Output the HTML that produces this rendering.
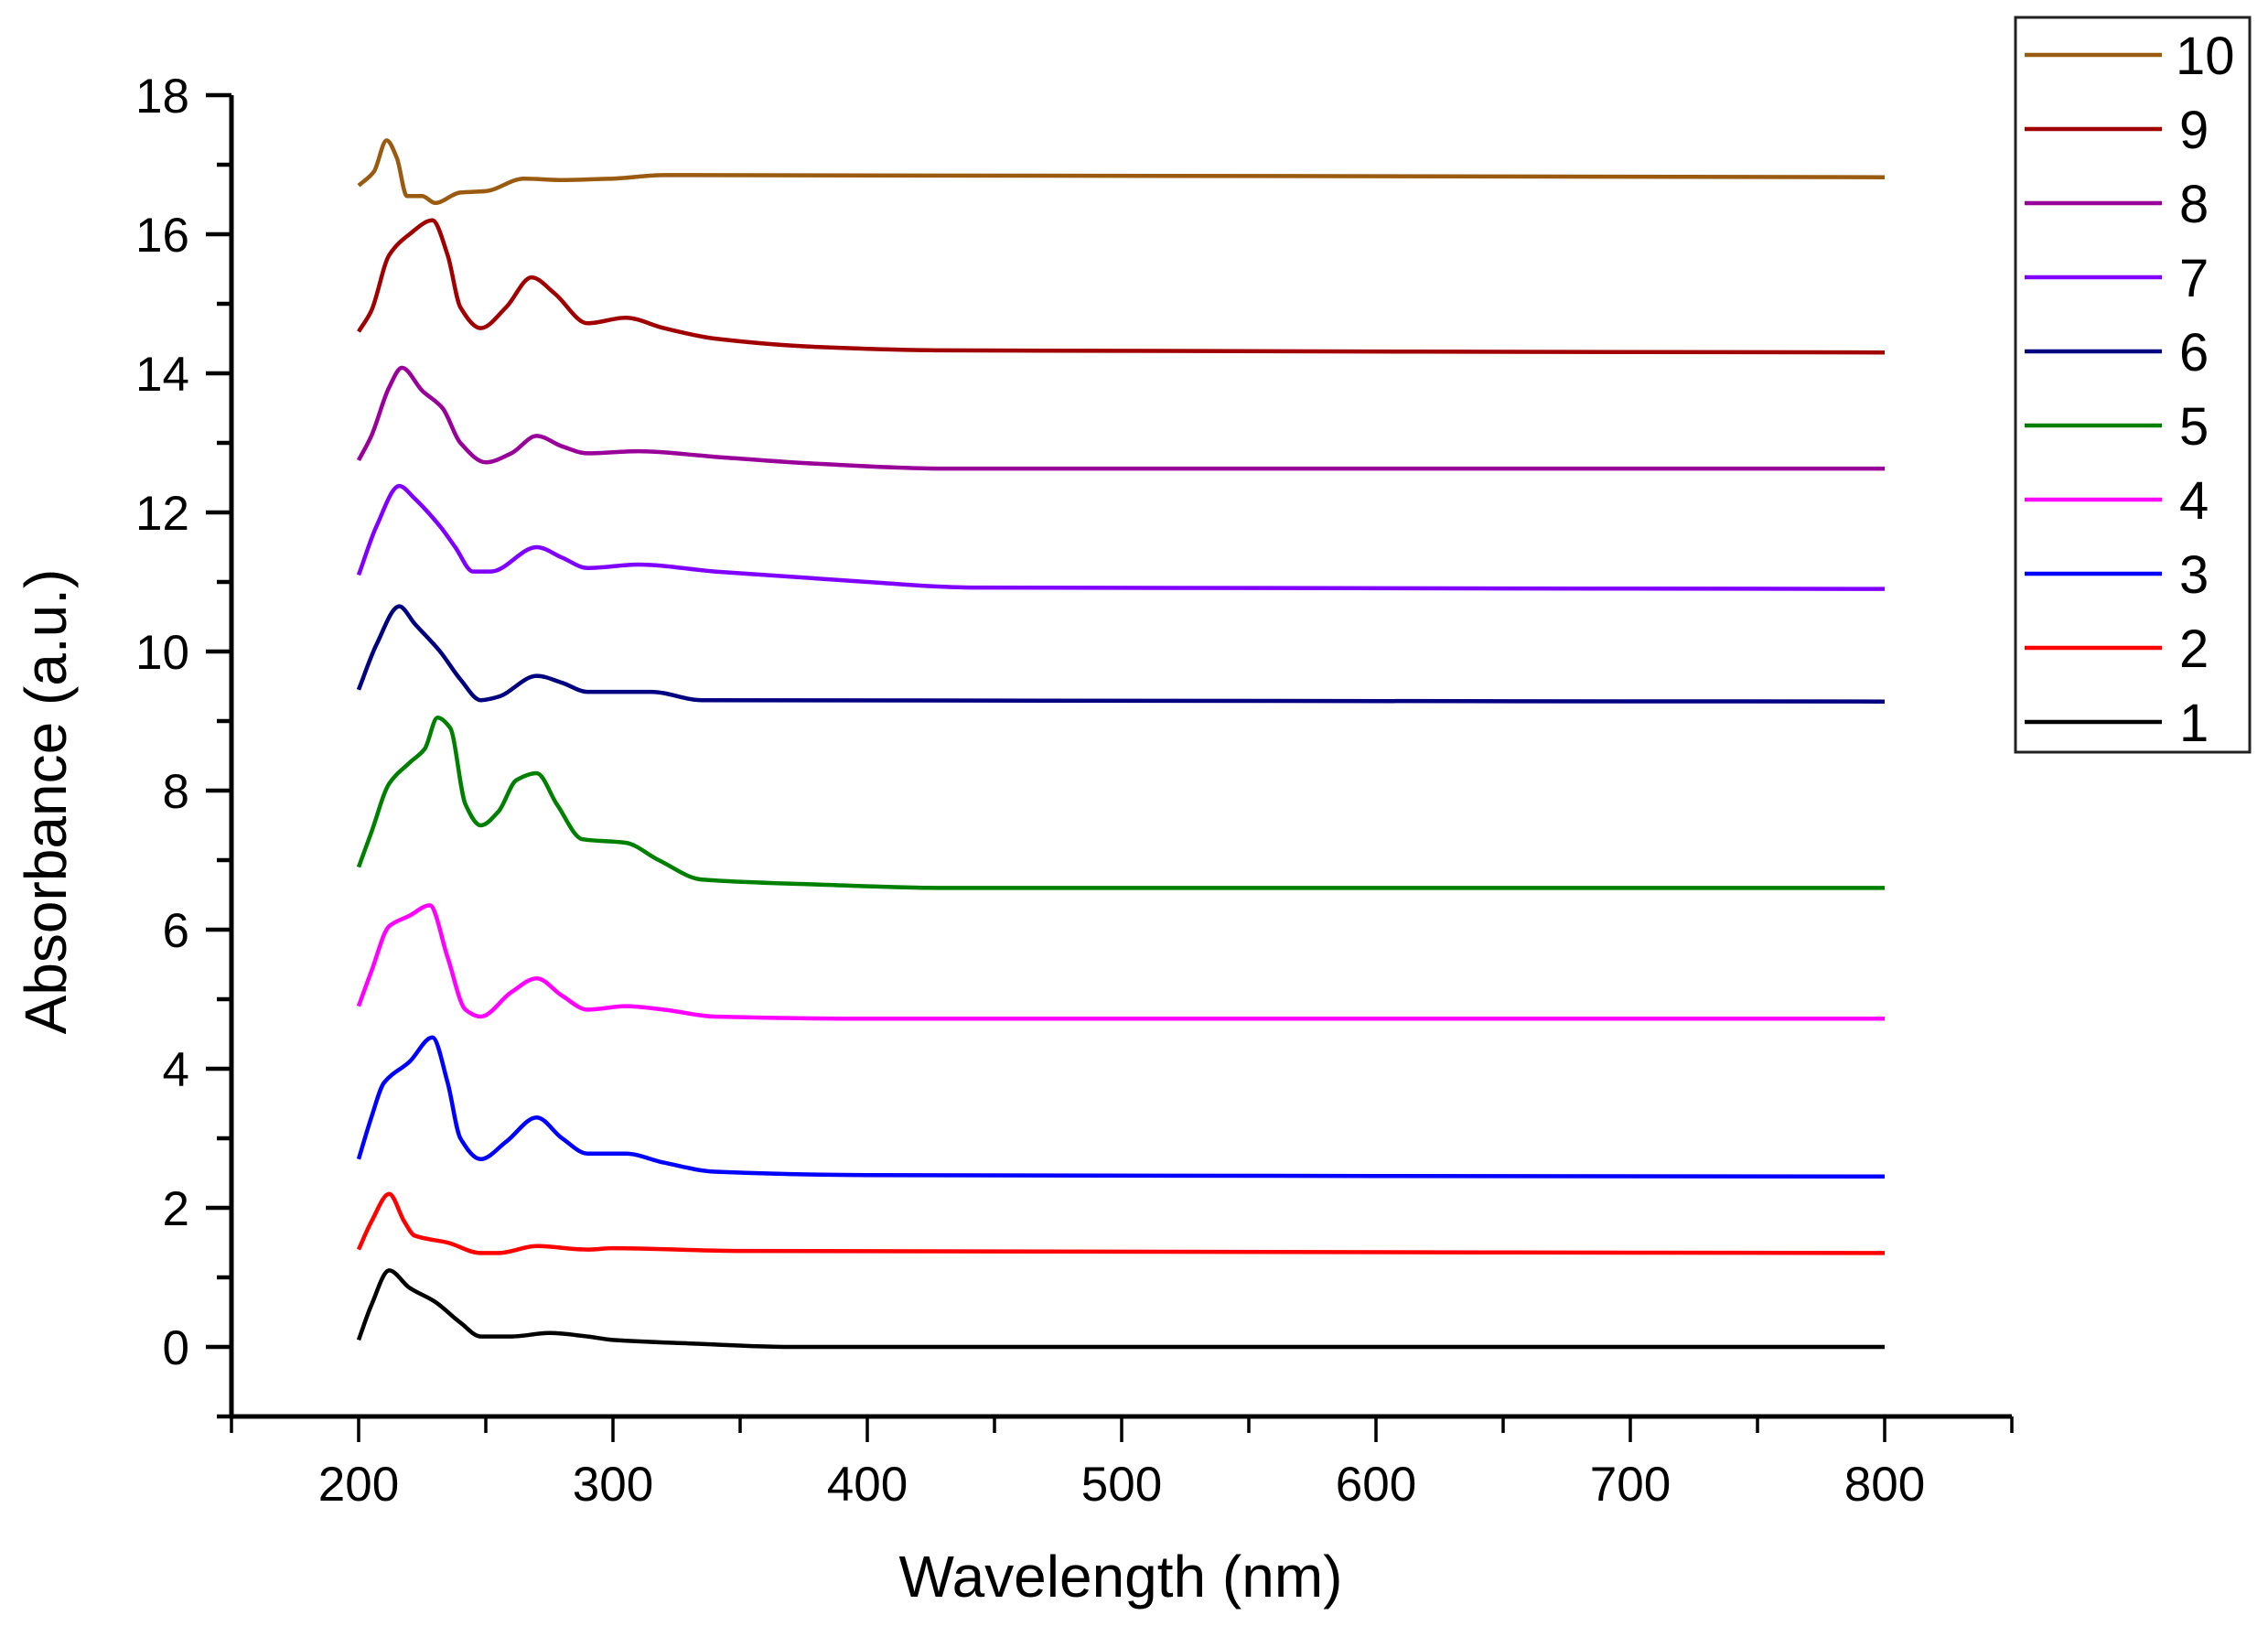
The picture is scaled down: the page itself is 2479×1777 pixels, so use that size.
<!DOCTYPE html>
<html><head><meta charset="utf-8"><style>
html,body{margin:0;padding:0;background:#fff;}
svg{display:block;font-family:"Liberation Sans",Arial,sans-serif;}
</style></head><body>
<svg id="chart" width="2479" height="1777" viewBox="0 0 2479 1777" xmlns="http://www.w3.org/2000/svg">
<g id="axes"></g>
<g id="series"></g>
<g id="legend"></g>
<text x="1225" y="1745" font-size="64" text-anchor="middle">Wavelength (nm)</text>
<text x="0" y="0" font-size="64" text-anchor="middle" transform="translate(72,876) rotate(-90)">Absorbance (a.u.)</text>
</svg>
<script>
const seriesNames = ["1","2","3","4","5","6","7","8","9","10"];
const seriesColors = ["#000000","#ff0000","#0000ff","#ff00ff","#008000","#000080","#8000ff","#990099","#a00000","#9a5a10"];
const xTicks = [200,300,400,500,600,700,800];
const yTicks = [0,2,4,6,8,10,12,14,16,18];
const wl1 = [200,205,212,220,230,240,248,260,275,290,300,330,370,800];
const ab1 = [0.1,0.6,1.1,0.85,0.65,0.35,0.15,0.15,0.2,0.15,0.1,0.05,0,0];
const wl2 = [200,205,212,218,222,235,248,255,270,290,300,350,800];
const ab2 = [1.4,1.8,2.2,1.8,1.6,1.5,1.35,1.35,1.45,1.4,1.42,1.38,1.35];
const wl3 = [200,205,210,220,229,235,240,248,258,270,280,290,305,320,340,400,800];
const ab3 = [2.7,3.3,3.8,4.1,4.45,3.8,3.0,2.7,2.95,3.3,3.0,2.78,2.78,2.65,2.52,2.47,2.45];
const wl4 = [200,205,212,220,228,235,242,248,260,270,280,290,305,320,340,400,800];
const ab4 = [4.9,5.4,6.05,6.2,6.35,5.6,4.85,4.75,5.1,5.3,5.05,4.85,4.9,4.85,4.75,4.72,4.72];
const wl5 = [200,205,212,220,226,231,236,242,248,255,262,270,278,288,305,318,335,380,430,800];
const ab5 = [6.9,7.4,8.1,8.4,8.6,9.05,8.9,7.8,7.5,7.7,8.15,8.25,7.8,7.3,7.25,7.0,6.72,6.65,6.6,6.6];
const wl6 = [200,207,216,222,232,240,248,255,270,280,290,315,335,800];
const ab6 = [9.45,10.1,10.65,10.4,10.0,9.6,9.3,9.35,9.65,9.55,9.42,9.42,9.3,9.28];
const wl7 = [200,207,216,222,232,238,245,252,270,280,290,310,340,400,440,800];
const ab7 = [11.1,11.8,12.38,12.2,11.8,11.5,11.15,11.15,11.5,11.35,11.2,11.25,11.15,11.0,10.92,10.9];
const wl8 = [200,205,212,217,225,233,240,250,260,270,280,290,310,340,380,430,800];
const ab8 = [12.75,13.1,13.8,14.08,13.75,13.5,13.0,12.72,12.85,13.1,12.95,12.85,12.88,12.8,12.7,12.63,12.63];
const wl9 = [200,205,212,220,229,235,240,248,258,268,277,290,305,320,340,380,430,800];
const ab9 = [14.6,14.9,15.7,16.0,16.2,15.7,14.95,14.65,14.95,15.38,15.15,14.72,14.8,14.65,14.5,14.38,14.33,14.3];
const wl10 = [200,206,211,215,219,225,230,240,250,265,280,300,320,800];
const ab10 = [16.7,16.9,17.35,17.1,16.55,16.55,16.45,16.6,16.62,16.8,16.78,16.8,16.85,16.82];
const allWl = [wl1,wl2,wl3,wl4,wl5,wl6,wl7,wl8,wl9,wl10];
const allAb = [ab1,ab2,ab3,ab4,ab5,ab6,ab7,ab8,ab9,ab10];

const NS="http://www.w3.org/2000/svg";
const X0=253, X1=2199, XMIN=150, XMAX=850;
const YB=1548, YT=104, YMIN=-1, YMAX=18;
function sx(v){return X0+(v-XMIN)/(XMAX-XMIN)*(X1-X0);}
function sy(v){return YB-(v-YMIN)/(YMAX-YMIN)*(YB-YT);}
function mk(tag,attrs,parent){const e=document.createElementNS(NS,tag);for(const k in attrs)e.setAttribute(k,attrs[k]);parent.appendChild(e);return e;}
function smoothPath(P){
  const n=P.length, m=[], s=[];
  for(let i=0;i<n-1;i++) s.push((P[i+1][1]-P[i][1])/(P[i+1][0]-P[i][0]));
  for(let i=0;i<n;i++){
    if(i===0) m.push(s[0]);
    else if(i===n-1) m.push(s[n-2]);
    else {
      const a=s[i-1], b=s[i];
      if(a*b<=0) m.push(0);
      else {
        let h=2*a*b/(a+b);
        const lim=3*Math.min(Math.abs(a),Math.abs(b));
        if(Math.abs(h)>lim) h=Math.sign(h)*lim;
        m.push(h);
      }
    }
  }
  let d='M'+P[0][0].toFixed(1)+','+P[0][1].toFixed(1);
  for(let i=0;i<n-1;i++){
    const dx=(P[i+1][0]-P[i][0])/3;
    d+=' C'+(P[i][0]+dx).toFixed(1)+','+(P[i][1]+m[i]*dx).toFixed(1)+' '+(P[i+1][0]-dx).toFixed(1)+','+(P[i+1][1]-m[i+1]*dx).toFixed(1)+' '+P[i+1][0].toFixed(1)+','+P[i+1][1].toFixed(1);
  }
  return d;
}

const axes=document.getElementById('axes');
let yl=mk('line',{x1:X0,y1:YB,x2:X0,y2:YT,stroke:'#000','stroke-width':5},axes);


let xl=mk('line',{x1:X0-2,y1:YB,x2:X1,y2:YB,stroke:'#000','stroke-width':5},axes);


for(let v=YMIN;v<=YMAX;v++){
  const major=(v%2===0);
  const t=mk('line',{x1:X0-(major?28:16),y1:sy(v),x2:X0,y2:sy(v),stroke:'#000','stroke-width':4.5},axes);
  
  
}
yTicks.forEach(v=>{
  const t=mk('text',{x:X0-46,y:sy(v)+19,'font-size':53,'text-anchor':'end'},axes);
  t.textContent=v;
  
  
});
for(let v=XMIN;v<=XMAX;v+=50){
  const major=(v%100===0);
  const t=mk('line',{x1:sx(v),y1:YB,x2:sx(v),y2:YB+(major?28:18),stroke:'#000','stroke-width':3.5},axes);
  
  
}
xTicks.forEach(v=>{
  const t=mk('text',{x:sx(v),y:1640,'font-size':53,'text-anchor':'middle'},axes);
  t.textContent=v;
  
  
});

const sg=document.getElementById('series');
allWl.forEach((wl,i)=>{
  const P=wl.map((w,j)=>[sx(w),sy(allAb[i][j])]);
  const p=mk('path',{d:smoothPath(P),fill:'none',stroke:seriesColors[i],'stroke-width':4.5,'stroke-linejoin':'round'},sg);
  
  
});

const lg=document.getElementById('legend');
const box=mk('rect',{x:2203,y:19,width:256,height:803,fill:'#fff',stroke:'#222','stroke-width':3},lg);


for(let k=0;k<10;k++){
  const i=9-k;
  const y=60+k*81;
  const g=mk('g',{},lg);
  
  
  mk('line',{x1:2213,y1:y,x2:2363,y2:y,stroke:seriesColors[i],'stroke-width':4.5},g);
  const t=mk('text',{x:i===9?2378:2382,y:y+21,'font-size':58},g);
  t.textContent=seriesNames[i];
}
</script>
</body></html>
